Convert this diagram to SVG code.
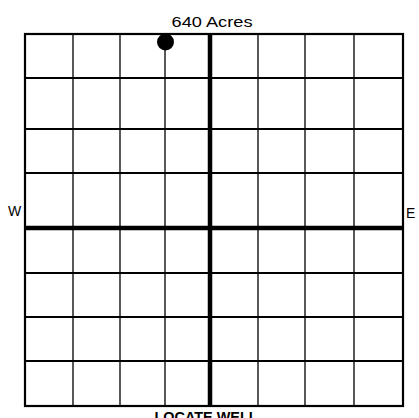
<svg xmlns="http://www.w3.org/2000/svg" width="419" height="418" viewBox="0 0 419 418">
<style>
.t{font-family:"Liberation Sans",Arial,sans-serif;fill:#000}
.thin{stroke:#000;stroke-width:1.3;fill:none}
.mid{stroke:#000;stroke-width:2.2;fill:none}
.thick{stroke:#000;stroke-width:4.5;fill:none}
</style>
<rect width="419" height="418" fill="#fff"/>
<g id="grid">
<path class="thin" d="M73 34V406M120 34V406M165 34V406M258 34V406M305 34V406M354 34V406"/>
<path class="mid" d="M25 78H403M25 129H403M25 173H403M25 273H403M25 317H403M25 361H403"/>
<rect class="mid" x="25" y="34" width="378" height="372"/>
<path class="thick" d="M210 34V406M25 228H403"/>
</g>
<g id="well"><circle cx="165.5" cy="42" r="8.5" fill="#000"/></g>
<g id="labels">
<text class="t" x="212" y="27" font-size="14" text-anchor="middle" textLength="81" lengthAdjust="spacingAndGlyphs">640 Acres</text>
<text class="t" x="8" y="216" font-size="14">W</text>
<text class="t" x="406" y="218" font-size="14">E</text>
<text class="t" x="206" y="422" font-size="14" font-weight="bold" text-anchor="middle" textLength="103" lengthAdjust="spacingAndGlyphs">LOCATE WELL</text>
</g>
</svg>
